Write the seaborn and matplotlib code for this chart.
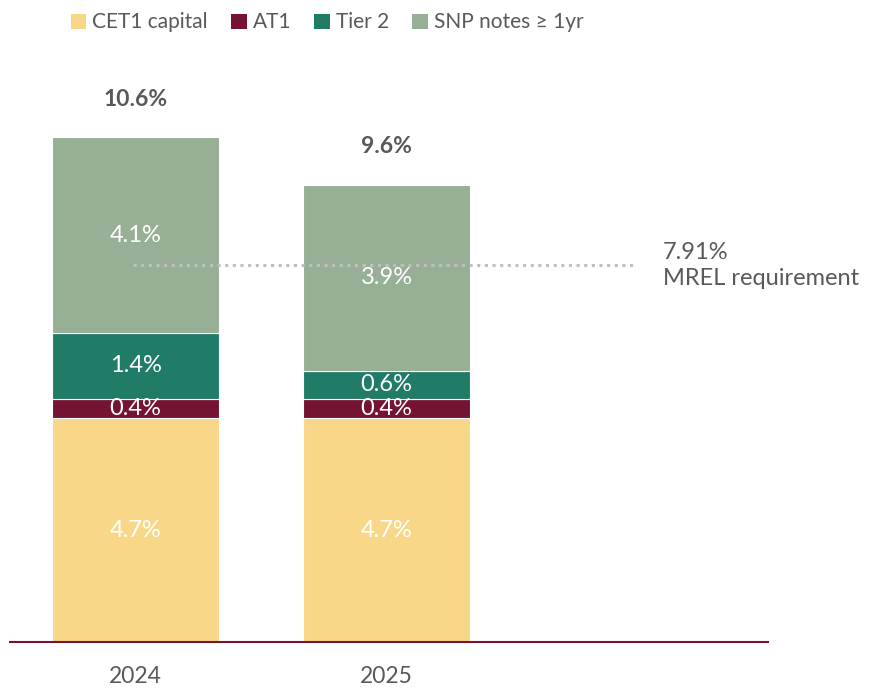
import matplotlib
matplotlib.use("Agg")
import matplotlib.pyplot as plt
from matplotlib.patches import Patch
import seaborn as sns
import numpy as np
import pandas as pd

years = ["2024", "2025"]
series_names = ["CET1 capital", "AT1", "Tier 2", "SNP notes \u2265 1yr"]
cet1 = [4.7, 4.7]
at1 = [0.4, 0.4]
tier2 = [1.4, 0.6]
snp = [4.1, 3.9]
totals = [10.6, 9.6]
mrel = 7.91
mrel_label = "7.91%\nMREL requirement"

colors = ["#F8D888", "#751332", "#207C66", "#97AF94"]
grey = "#595959"

sns.set_theme(style="white")
plt.rcParams["font.family"] = ["Lato", "DejaVu Sans"]

fig = plt.figure(figsize=(8.71, 6.88), dpi=100)
W, H = 871, 688
ax = fig.add_axes([10 / W, (H - 642) / H, (768 - 10) / W, (642 - 60) / H])

layers = [cet1, at1, tier2, snp]
bottom = np.zeros(len(years))
for name, vals, c in zip(series_names, layers, colors):
    df = pd.DataFrame({"year": years, "value": vals})
    sns.barplot(data=df, x="year", y="value", bottom=bottom, color=c,
                saturation=1, width=0.665, ax=ax, edgecolor="white",
                linewidth=0.8, errorbar=None)
    for i, v in enumerate(vals):
        ax.text(i, bottom[i] + v / 2, f"{v:.1f}%", ha="center", va="center",
                color="white", fontsize=17)
    bottom = bottom + np.array(vals)

for i, t in enumerate(totals):
    ax.text(i, t + 0.8, f"{t:.1f}%", ha="center", va="center", color=grey,
            fontsize=16.5, fontweight="bold")

ax.hlines(mrel, -0.01, 1.99, colors="#BFBFBF", linewidth=2.2,
          linestyles=(0, (1, 1.5)), zorder=5)
ax.text(2.10, mrel, mrel_label, ha="left", va="center", color=grey,
        fontsize=17, linespacing=1.3)

ax.set_xlim(-0.5, 2.52)
ax.set_ylim(0, 582 / 47.6)
ax.set_xlabel("")
ax.set_ylabel("")
ax.set_yticks([])
ax.tick_params(axis="x", length=0, pad=17, labelsize=16.5, labelcolor=grey)
for s in ["top", "right", "left"]:
    ax.spines[s].set_visible(False)
ax.spines["bottom"].set_color("#751332")
ax.spines["bottom"].set_linewidth(1.5)

handles = [Patch(facecolor=c, edgecolor="none") for c in colors]
fig.legend(handles, series_names, loc="upper left", bbox_to_anchor=(58 / W, 1.0),
           ncol=4, frameon=False, fontsize=15, handlelength=0.75,
           handleheight=0.75, handletextpad=0.3, columnspacing=1.1,
           labelcolor=grey, borderaxespad=0.2)

fig.savefig("out.png", dpi=100)
